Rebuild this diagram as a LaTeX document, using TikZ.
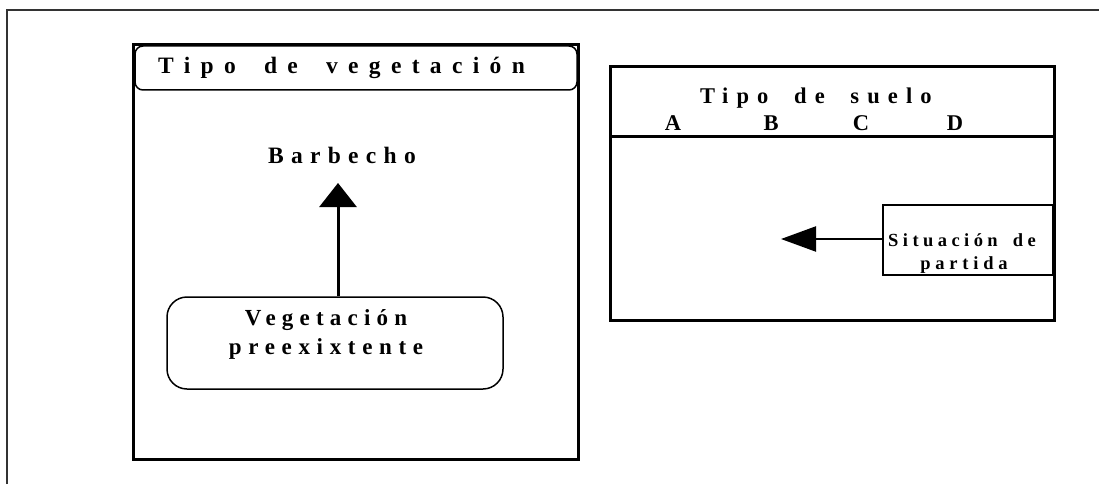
\documentclass[tikz,border=0pt]{standalone}
\usepackage{fontspec}
\setmainfont{Liberation Serif}
\usetikzlibrary{arrows.meta}
\newcommand{\wgap}[1]{\hspace*{#1}}
\tikzset{
  frame/.style={line width=1.6pt, draw=black!80},
  panel/.style={line width=3pt},
  thinbox/.style={line width=1.5pt, rounded corners=#1},
  lbl/.style={inner sep=0pt, anchor=base, font=\bfseries},
}
\begin{document}
\begin{tikzpicture}[x=1pt,y=-1pt]
\useasboundingbox (0,0) rectangle (1099,484);
% outer frame
\draw[frame] (7,484) -- (7,10) -- (1099,10);
% left panel
\draw[panel] (133,45) rectangle (578,459);
\draw[thinbox=8pt] (135,46) rectangle (577,90);
\node[lbl, anchor=base west, font=\fontsize{23.5}{23.5}\selectfont\bfseries\addfontfeature{LetterSpace=44}] (tv) at (158,74) {Tipo \wgap{12pt}de \wgap{12pt}vegetación};
\node[lbl, font=\fontsize{23.5}{23.5}\selectfont\bfseries\addfontfeature{LetterSpace=31}] (bar) at (342,163) {Barbecho};
\node[draw, thinbox=20pt, minimum width=336pt, minimum height=92pt, inner sep=0pt] (veg) at (335,343) {};
\node[lbl, font=\fontsize{23}{23}\selectfont\bfseries\addfontfeature{LetterSpace=27}] (vegA) at (326,325) {Vegetación};
\node[lbl, font=\fontsize{23}{23}\selectfont\bfseries\addfontfeature{LetterSpace=29}] (vegB) at (326,354) {preexixtente};
\coordinate (tipV) at (338,183);
\draw[line width=3pt, -{Triangle[length=24pt, width=37pt]}] (tipV |- veg.north) -- (tipV);
% right panel
\draw[panel] (610,67) rectangle (1054,320);
\draw[panel] (610,136) -- (1054,136);
\node[lbl, anchor=base west, font=\fontsize{22.5}{22.5}\selectfont\bfseries\addfontfeature{LetterSpace=36}] (ts) at (700,103) {T\kern7pt ipo \wgap{12pt}de \wgap{12pt}suelo};
\node[lbl, font=\fontsize{22.5}{22.5}\selectfont\bfseries] (cA) at (673,131) {A};
\node[lbl, font=\fontsize{22.5}{22.5}\selectfont\bfseries] (cB) at (771,131) {B};
\node[lbl, font=\fontsize{22.5}{22.5}\selectfont\bfseries] (cC) at (861,131) {C};
\node[lbl, font=\fontsize{22.5}{22.5}\selectfont\bfseries] (cD) at (955,131) {D};
\node[draw, line width=2.6pt, minimum width=170pt, minimum height=70pt, inner sep=0pt] (sit) at (968,240) {};
\node[lbl, anchor=base west, font=\fontsize{18.5}{18.5}\selectfont\bfseries\addfontfeature{LetterSpace=24}] (sitA) at (888,246) {Situación \wgap{6pt}de};
\node[lbl, font=\fontsize{18.5}{18.5}\selectfont\bfseries\addfontfeature{LetterSpace=26}] (sitB) at (964,269) {partida};
\coordinate (tipH) at (781,239);
\draw[line width=2.2pt, -{Triangle[length=35pt, width=25pt]}] (sit.west |- tipH) -- (tipH);
\end{tikzpicture}
\end{document}
